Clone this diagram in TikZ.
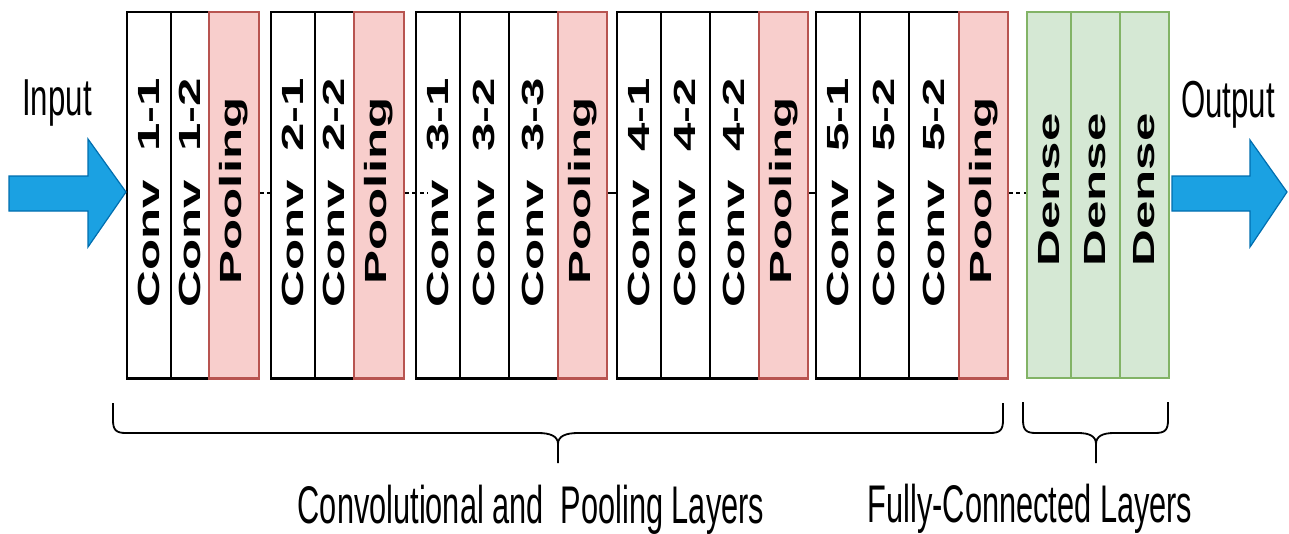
\documentclass[tikz,border=0pt]{standalone}
\usepackage{fontspec}
\usepackage{graphicx}
\setmainfont{Liberation Sans}
\definecolor{poolfill}{HTML}{F8CECC}
\definecolor{poolline}{HTML}{B85450}
\definecolor{densefill}{HTML}{D5E8D4}
\definecolor{denseline}{HTML}{82B366}
\definecolor{arrfill}{HTML}{1BA1E2}
\definecolor{arrline}{HTML}{006EAF}
\newcommand\vlab[2]{\scalebox{0.6}[1]{\rotatebox{90}{\hspace*{#1pt}#2}}}
\newcommand\hlab[2]{\scalebox{#1}[1]{#2}}
\newcommand\convlab[1]{\vlab{4}{Conv\hspace{0.56em}#1}}
\begin{document}
\begin{tikzpicture}[x=1pt,y=-1pt,
  cell/.style={draw=black, line width=1.8pt, fill=white, minimum height=366pt,
    inner sep=0pt, anchor=north west, font=\fontsize{51}{51}\selectfont\bfseries},
  pool/.style={cell, draw=poolline, fill=poolfill},
  dense/.style={cell, draw=denseline, fill=densefill},
  bottomline/.style={line width=3pt, black},
  poolbottom/.style={line width=3pt, poolline},
  link/.style={line width=2pt, black},
  dlink/.style={link, dash pattern=on 4pt off 3.5pt},
  bigarrow/.style={fill=arrfill, draw=arrline, line width=1.2pt},
  bracestyle/.style={line width=1.8pt, black},
  caption/.style={font=\fontsize{53}{53}\selectfont, anchor=base, inner sep=0pt}]
\useasboundingbox (0,0) rectangle (1289,533);

% group 1
\node[cell, minimum width=44pt] (c11) at (126,11) {\convlab{1-1}};
\node[cell, minimum width=38pt] (c12) at (170,11) {\convlab{1-2}};
\node[pool, minimum width=50pt] (p1) at (208,11) {\vlab{8}{Pooling}};
% group 2
\node[cell, minimum width=44pt] (c21) at (270,11) {\convlab{2-1}};
\node[cell, minimum width=39pt] (c22) at (314,11) {\convlab{2-2}};
\node[pool, minimum width=50pt] (p2) at (353,11) {\vlab{8}{Pooling}};
% group 3
\node[cell, minimum width=44pt] (c31) at (415,11) {\convlab{3-1}};
\node[cell, minimum width=49pt] (c32) at (459,11) {\convlab{3-2}};
\node[cell, minimum width=49pt] (c33) at (508,11) {\convlab{3-3}};
\node[pool, minimum width=49pt] (p3) at (557,11) {\vlab{8}{Pooling}};
% group 4
\node[cell, minimum width=44pt] (c41) at (616,11) {\convlab{4-1}};
\node[cell, minimum width=49pt] (c42) at (660,11) {\convlab{4-2}};
\node[cell, minimum width=49pt] (c43) at (709,11) {\convlab{4-2}};
\node[pool, minimum width=49pt] (p4) at (758,11) {\vlab{8}{Pooling}};
% group 5
\node[cell, minimum width=44pt] (c51) at (815,11) {\convlab{5-1}};
\node[cell, minimum width=49pt] (c52) at (859,11) {\convlab{5-2}};
\node[cell, minimum width=50pt] (c53) at (908,11) {\convlab{5-2}};
\node[pool, minimum width=49pt] (p5) at (958,11) {\vlab{8}{Pooling}};
% dense
\node[dense, minimum width=44pt] (d1) at (1026,11) {\vlab{10}{Dense}};
\node[dense, minimum width=49pt] (d2) at (1070,11) {\vlab{10}{Dense}};
\node[dense, minimum width=49pt] (d3) at (1119,11) {\vlab{10}{Dense}};

% thick bottom edges
\draw[bottomline] (c11.south west) -- (c12.south east);
\draw[bottomline] (c21.south west) -- (c22.south east);
\draw[bottomline] (c31.south west) -- (c33.south east);
\draw[bottomline] (c41.south west) -- (c43.south east);
\draw[bottomline] (c51.south west) -- (c53.south east);
\draw[poolbottom] (p1.south west) -- (p1.south east);
\draw[poolbottom] (p2.south west) -- (p2.south east);
\draw[poolbottom] (p3.south west) -- (p3.south east);
\draw[poolbottom] (p4.south west) -- (p4.south east);
\draw[poolbottom] (p5.south west) -- (p5.south east);

% connectors between groups
\draw[dlink] ([yshift=2pt]p1.east) -- ([yshift=2pt]c21.west);
\draw[dlink] ([yshift=2pt]p2.east) -- ([yshift=2pt,xshift=13pt]c31.west);
\draw[link] ([yshift=2pt]p3.east) -- ([yshift=2pt]c41.west);
\draw[link] ([yshift=2pt]p4.east) -- ([yshift=2pt]c51.west);
\draw[dlink] ([yshift=2pt]p5.east) -- ([yshift=2pt]d1.west);

% big arrows
\draw[bigarrow] (9,176) -- (88,176) -- (88,139) -- (126,192) -- (88,247) -- (88,211) -- (9,211) -- cycle;
\draw[bigarrow] (1172,176) -- (1250,176) -- (1250,140) -- (1287,192) -- (1250,247) -- (1250,211) -- (1172,211) -- cycle;

% labels
\node[caption, font=\fontsize{52}{52}\selectfont] (in) at (57,115) {\hlab{0.6}{Input}};
\node[caption, font=\fontsize{52}{52}\selectfont] (out) at (1228,117) {\hlab{0.6}{Output}};

% braces
\draw[bracestyle] (113,403) -- (113,420) .. controls (113,430) and (116,433) .. (126,433)
  -- (538,433) .. controls (550,433) and (558,436) .. (558,444) -- (558,463);
\draw[bracestyle] (558,444) .. controls (558,436) and (566,433) .. (578,433)
  -- (990,433) .. controls (1000,433) and (1003,430) .. (1003,420) -- (1003,403);
\draw[bracestyle] (1023,402) -- (1023,420) .. controls (1023,430) and (1026,433) .. (1036,433)
  -- (1078,433) .. controls (1089,433) and (1096,436) .. (1096,444) -- (1096,463);
\draw[bracestyle] (1096,444) .. controls (1096,436) and (1103,433) .. (1114,433)
  -- (1155,433) .. controls (1165,433) and (1168,430) .. (1168,420) -- (1168,402);

\node[caption] (cap1) at (531,523) {\hlab{0.58}{Convolutional and\ \ Pooling Layers}};
\node[caption] (cap2) at (1030,522) {\hlab{0.58}{Fully-Connected Layers}};
\end{tikzpicture}
\end{document}
